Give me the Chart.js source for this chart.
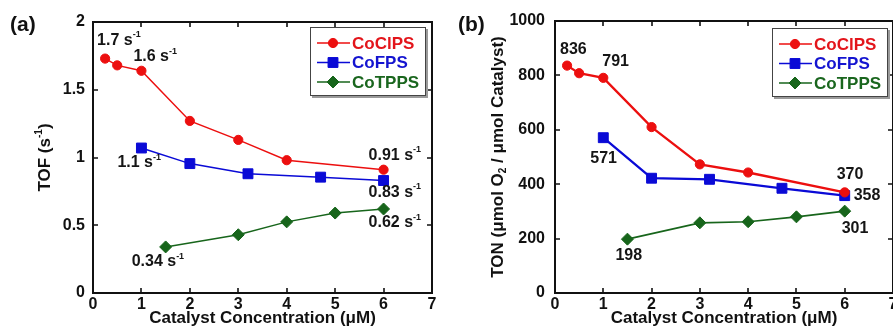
<!DOCTYPE html>
<html><head><meta charset="utf-8">
<script src="https://cdn.jsdelivr.net/npm/chart.js@4/dist/chart.umd.min.js"></script>
<style>
html,body{margin:0;padding:0;background:#fff;overflow:hidden;width:893px;height:327px;}
#wrapA{position:absolute;left:0;top:0;width:445px;height:327px;}
#wrapB{position:absolute;left:445px;top:0;width:470px;height:327px;}
canvas{display:block;}
</style></head><body>
<div id="wrapA"><canvas id="cA" width="445" height="327"></canvas></div>
<div id="wrapB"><canvas id="cB" width="470" height="327"></canvas></div>
<script>
// ---------------- data ----------------
const seriesNames = ['CoClPS', 'CoFPS', 'CoTPPS'];
const clpsX = [0.25, 0.5, 1, 2, 3, 4, 6];
const clpsTOF = [1.73, 1.68, 1.64, 1.27, 1.13, 0.98, 0.91];
const clpsTON = [836, 808, 791, 610, 473, 443, 370];
const fpsX = [1, 2, 3.2, 4.7, 6];
const fpsTOF = [1.07, 0.955, 0.88, 0.855, 0.83];
const fpsTON = [571, 422, 418, 385, 358];
const tppsX = [1.5, 3, 4, 5, 6];
const tppsTOF = [0.34, 0.43, 0.525, 0.59, 0.62];
const tppsTON = [198, 258, 262, 280, 301];
const xTicks = [0, 1, 2, 3, 4, 5, 6, 7];
const tofTicks = [0, 0.5, 1, 1.5, 2];
const tonTicks = [0, 200, 400, 600, 800, 1000];
const xTitle = 'Catalyst Concentration (\u03bcM)';
// point labels: [series, point index, text, superscript]
const tofLabels = [[0,0,'1.7 s','-1'],[0,2,'1.6 s','-1'],[1,0,'1.1 s','-1'],[2,0,'0.34 s','-1'],[0,6,'0.91 s','-1'],[1,4,'0.83 s','-1'],[2,4,'0.62 s','-1']];
const tonLabels = [[0,0,'836',''],[0,2,'791',''],[1,0,'571',''],[2,0,'198',''],[0,6,'370',''],[1,4,'358',''],[2,4,'301','']];

// ---------------- styles ----------------
const tofLabelOffsets = [[-8,-18],[-8,-14],[-24,15],[-34,15],[-15,-14],[-15,12],[-15,14]];
const tonLabelOffsets = [[-7,-16],[-1,-16],[-13,21],[-12,16],[-8,-18],[9,0],[-3,17]];
const FONT = '"Liberation Sans", Arial, sans-serif';
const colors = ['#ec0f0f', '#0a0ad6', '#17651b'];
const textColors = ['#e3151b', '#1414d0', '#1a661e'];
const pStyles = ['circle', 'rect', 'rectRot'];
const pRadius = [4.6, 7, 6];

function drawMarker(ctx, style, x, y, r, color) {
  ctx.save();
  ctx.fillStyle = color; ctx.strokeStyle = color; ctx.lineWidth = 1;
  ctx.beginPath();
  if (style === 'circle') ctx.arc(x, y, r, 0, Math.PI * 2);
  else if (style === 'rect') { const s = r * Math.SQRT1_2; ctx.rect(x - s, y - s, 2 * s, 2 * s); }
  else { ctx.moveTo(x, y - r); ctx.lineTo(x + r, y); ctx.lineTo(x, y + r); ctx.lineTo(x - r, y); ctx.closePath(); }
  ctx.fill(); ctx.stroke();
  ctx.restore();
}

// parts: [text, mode] mode '', 'sup', 'sub'
function richWidth(ctx, parts, size) {
  let w = 0;
  parts.forEach(([t, m]) => {
    ctx.font = 'bold ' + (m ? Math.round(size * 0.58) : size) + 'px ' + FONT;
    w += ctx.measureText(t).width;
  });
  return w;
}
function drawRich(ctx, parts, x, y, size, color) {
  ctx.save();
  ctx.fillStyle = color; ctx.textBaseline = 'middle'; ctx.textAlign = 'left';
  let cx = x;
  parts.forEach(([t, m]) => {
    const fs = m ? Math.round(size * 0.58) : size;
    ctx.font = 'bold ' + fs + 'px ' + FONT;
    const dy = m === 'sup' ? -size * 0.36 : (m === 'sub' ? size * 0.3 : 0);
    ctx.fillText(t, cx, y + dy);
    cx += ctx.measureText(t).width;
  });
  ctx.restore();
}

function makeDatasets(ys, widths) {
  const xs = [clpsX, fpsX, tppsX];
  return ys.map((arr, s) => ({
    label: seriesNames[s],
    data: arr.map((v, i) => ({ x: xs[s][i], y: v })),
    borderColor: colors[s], backgroundColor: colors[s],
    pointStyle: pStyles[s], pointRadius: pRadius[s], pointBorderWidth: 1,
    borderWidth: widths[s], tension: 0, showLine: true, clip: false
  }));
}

const decorPlugin = {
  id: 'decor',
  beforeDatasetsDraw(chart, args, o) {
    const { ctx, chartArea: a, scales: { x, y } } = chart;
    ctx.save();
    ctx.strokeStyle = '#111'; ctx.lineWidth = 2;
    ctx.strokeRect(a.left, a.top, a.right - a.left, a.bottom - a.top);
    ctx.lineWidth = 1.6;
    const L = 5;
    ctx.beginPath();
    x.ticks.forEach(t => {
      const px = Math.round(x.getPixelForValue(t.value));
      if (px <= a.left + 1 || px >= a.right - 1) return;
      ctx.moveTo(px, a.bottom); ctx.lineTo(px, a.bottom - L);
      ctx.moveTo(px, a.top); ctx.lineTo(px, a.top + L);
    });
    y.ticks.forEach(t => {
      const py = Math.round(y.getPixelForValue(t.value));
      if (py <= a.top + 1 || py >= a.bottom - 1) return;
      ctx.moveTo(a.left, py); ctx.lineTo(a.left + L, py);
      ctx.moveTo(a.right, py); ctx.lineTo(a.right - L, py);
    });
    ctx.stroke();
    ctx.restore();
  },
  afterDatasetsDraw(chart, args, o) {
    const { ctx, chartArea: a } = chart;
    // point labels
    o.labels.forEach((lb, k) => {
      const el = chart.getDatasetMeta(lb[0]).data[lb[1]];
      const off = o.offsets[k];
      const parts = [[lb[2], '']];
      if (lb[3]) parts.push([lb[3], 'sup']);
      drawRich(ctx, parts, el.x + off[0], el.y + off[1], 16, '#151515');
    });
    // legend
    const bw = 116, bh = 69;
    const bx = a.right - o.legendRight - bw, by = a.top + o.legendTop;
    ctx.save();
    ctx.fillStyle = '#9a9a9a';
    ctx.fillRect(bx + 2, by + 2, bw, bh);
    ctx.fillStyle = '#fff';
    ctx.fillRect(bx, by, bw, bh);
    ctx.strokeStyle = '#444'; ctx.lineWidth = 1;
    ctx.strokeRect(bx + 0.5, by + 0.5, bw - 1, bh - 1);
    chart.data.datasets.forEach((ds, s) => {
      const ry = by + 16 + s * 19.5;
      ctx.strokeStyle = colors[s]; ctx.lineWidth = 1.6;
      ctx.beginPath(); ctx.moveTo(bx + 7, ry); ctx.lineTo(bx + 40, ry); ctx.stroke();
      drawMarker(ctx, pStyles[s], bx + 23, ry, s === 1 ? 7 : (s === 2 ? 6 : 4.6), colors[s]);
      drawRich(ctx, [[ds.label, '']], bx + 42, ry + 1, 17, textColors[s]);
    });
    ctx.restore();
  },
  afterDraw(chart, args, o) {
    const { ctx, chartArea: a } = chart;
    drawRich(ctx, [[o.panel, '']], o.panelX, 25, 21, '#111');
    const w = richWidth(ctx, o.yTitle, 17);
    ctx.save();
    ctx.translate(o.yTitleX, (a.top + a.bottom) / 2);
    ctx.rotate(-Math.PI / 2);
    drawRich(ctx, o.yTitle, -w / 2, 0, 17, '#111');
    ctx.restore();
  }
};

function makeChart(id, ys, yTicks, yMax, widths, opts) {
  return new Chart(document.getElementById(id), {
    type: 'line',
    data: { datasets: makeDatasets(ys, widths) },
    options: {
      responsive: false, animation: false, devicePixelRatio: 1,
      layout: { padding: { left: 0, top: opts.top, right: opts.right, bottom: 0 } },
      plugins: { legend: { display: false }, tooltip: { enabled: false }, decor: opts.decor },
      scales: {
        x: {
          type: 'linear', min: xTicks[0], max: xTicks[xTicks.length - 1],
          afterBuildTicks: sc => { sc.ticks = xTicks.map(v => ({ value: v })); },
          grid: { display: false, drawTicks: false }, border: { display: false },
          ticks: { color: '#111', padding: 2, font: { family: FONT, size: 16, weight: 'bold' }, callback: v => String(v), maxRotation: 0, autoSkip: false },
          title: { display: true, text: xTitle, color: '#111', padding: { top: 0, bottom: 0 }, font: { family: FONT, size: 17, weight: 'bold', lineHeight: 1 } },
          afterFit: sc => { sc.height = 34; }
        },
        y: {
          type: 'linear', min: yTicks[0], max: yMax,
          afterBuildTicks: sc => { sc.ticks = yTicks.map(v => ({ value: v })); },
          grid: { display: false, drawTicks: false }, border: { display: false },
          ticks: { color: '#111', padding: opts.yPad, font: { family: FONT, size: 16, weight: 'bold' }, callback: v => String(v), autoSkip: false },
          afterFit: sc => { sc.width = opts.yWidth; }
        }
      }
    },
    plugins: [decorPlugin]
  });
}

makeChart('cA', [clpsTOF, fpsTOF, tppsTOF], tofTicks, 2, [1.5, 1.5, 1.5], {
  top: 22, right: 13, yWidth: 93, yPad: 8,
  decor: { labels: tofLabels, offsets: tofLabelOffsets, legendRight: 6, legendTop: 5, panel: '(a)', panelX: 10, yTitleX: 45,
    yTitle: [['TOF (s', ''], ['-1', 'sup'], [')', '']] }
});
makeChart('cB', [clpsTON, fpsTON, tppsTON], tonTicks, 1000, [2.3, 2.3, 1.7], {
  top: 21, right: 22, yWidth: 110, yPad: 10,
  decor: { labels: tonLabels, offsets: tonLabelOffsets, legendRight: 5, legendTop: 7, panel: '(b)', panelX: 13, yTitleX: 53,
    yTitle: [['TON (\u03bcmol O', ''], ['2', 'sub'], [' / \u03bcmol Catalyst)', '']] }
});
</script>
</body></html>
